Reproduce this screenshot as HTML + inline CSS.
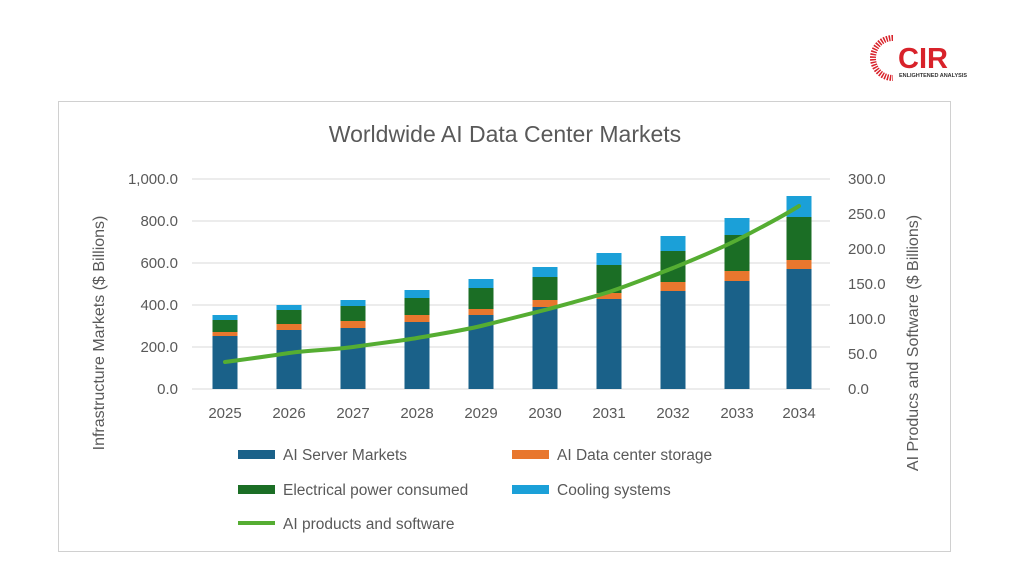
<!DOCTYPE html>
<html><head><style>
body{margin:0;background:#fff;width:1024px;height:576px;overflow:hidden;font-family:"Liberation Sans",sans-serif}
</style></head><body>
<svg width="1024" height="576" xmlns="http://www.w3.org/2000/svg" font-family="Liberation Sans, sans-serif">
<rect x="58.5" y="101.5" width="892" height="450" fill="#fff" stroke="#d0d0d0"/>
<g>
<path d="M893 38 A20 20 0 1 0 893 78" fill="none" stroke="#d8222a" stroke-width="6" stroke-dasharray="1.5 1.2"/>
<text x="898" y="68" font-size="29" font-weight="bold" fill="#d8222a">CIR</text>
<text x="899" y="77" font-size="5.5" font-weight="bold" fill="#333">ENLIGHTENED ANALYSIS</text>
</g>
<text x="505" y="142" font-size="23" fill="#595959" text-anchor="middle">Worldwide AI Data Center Markets</text>
<g stroke="#d9d9d9" stroke-width="1">
<line x1="192" x2="830" y1="179" y2="179"/><line x1="192" x2="830" y1="221" y2="221"/>
<line x1="192" x2="830" y1="263" y2="263"/><line x1="192" x2="830" y1="305" y2="305"/>
<line x1="192" x2="830" y1="347" y2="347"/><line x1="192" x2="830" y1="389" y2="389"/>
</g>
<g font-size="15" fill="#595959" text-anchor="end">
<text x="178" y="184">1,000.0</text><text x="178" y="226">800.0</text><text x="178" y="268">600.0</text>
<text x="178" y="310">400.0</text><text x="178" y="352">200.0</text><text x="178" y="394">0.0</text>
</g>
<g font-size="15" fill="#595959">
<text x="848" y="184">300.0</text><text x="848" y="219">250.0</text><text x="848" y="254">200.0</text>
<text x="848" y="289">150.0</text><text x="848" y="324">100.0</text><text x="848" y="359">50.0</text><text x="848" y="394">0.0</text>
</g>
<g font-size="15" fill="#595959" text-anchor="middle">
<text x="225" y="418">2025</text><text x="289" y="418">2026</text><text x="353" y="418">2027</text><text x="417" y="418">2028</text><text x="481" y="418">2029</text>
<text x="545" y="418">2030</text><text x="609" y="418">2031</text><text x="673" y="418">2032</text><text x="737" y="418">2033</text><text x="799" y="418">2034</text>
</g>
<text transform="translate(104,333) rotate(-90)" font-size="16" fill="#595959" text-anchor="middle">Infrastructure Markets ($ Billions)</text>
<text transform="translate(918,343) rotate(-90)" font-size="16" fill="#595959" text-anchor="middle">AI Producs and Software ($ Billions)</text>
<g>
<rect x="212.5" y="336" width="25" height="53" fill="#1a6189"/><rect x="212.5" y="332" width="25" height="4" fill="#e8772e"/><rect x="212.5" y="320" width="25" height="12" fill="#1b6e25"/><rect x="212.5" y="315" width="25" height="5" fill="#1ba0d8"/>
<rect x="276.5" y="330" width="25" height="59" fill="#1a6189"/><rect x="276.5" y="324" width="25" height="6" fill="#e8772e"/><rect x="276.5" y="310" width="25" height="14" fill="#1b6e25"/><rect x="276.5" y="305" width="25" height="5" fill="#1ba0d8"/>
<rect x="340.5" y="328" width="25" height="61" fill="#1a6189"/><rect x="340.5" y="321" width="25" height="7" fill="#e8772e"/><rect x="340.5" y="306" width="25" height="15" fill="#1b6e25"/><rect x="340.5" y="300" width="25" height="6" fill="#1ba0d8"/>
<rect x="404.5" y="322" width="25" height="67" fill="#1a6189"/><rect x="404.5" y="315" width="25" height="7" fill="#e8772e"/><rect x="404.5" y="298" width="25" height="17" fill="#1b6e25"/><rect x="404.5" y="290" width="25" height="8" fill="#1ba0d8"/>
<rect x="468.5" y="315" width="25" height="74" fill="#1a6189"/><rect x="468.5" y="309" width="25" height="6" fill="#e8772e"/><rect x="468.5" y="288" width="25" height="21" fill="#1b6e25"/><rect x="468.5" y="279" width="25" height="9" fill="#1ba0d8"/>
<rect x="532.5" y="307" width="25" height="82" fill="#1a6189"/><rect x="532.5" y="300" width="25" height="7" fill="#e8772e"/><rect x="532.5" y="277" width="25" height="23" fill="#1b6e25"/><rect x="532.5" y="267" width="25" height="10" fill="#1ba0d8"/>
<rect x="596.5" y="299" width="25" height="90" fill="#1a6189"/><rect x="596.5" y="293" width="25" height="6" fill="#e8772e"/><rect x="596.5" y="265" width="25" height="28" fill="#1b6e25"/><rect x="596.5" y="253" width="25" height="12" fill="#1ba0d8"/>
<rect x="660.5" y="291" width="25" height="98" fill="#1a6189"/><rect x="660.5" y="282" width="25" height="9" fill="#e8772e"/><rect x="660.5" y="251" width="25" height="31" fill="#1b6e25"/><rect x="660.5" y="236" width="25" height="15" fill="#1ba0d8"/>
<rect x="724.5" y="281" width="25" height="108" fill="#1a6189"/><rect x="724.5" y="271" width="25" height="10" fill="#e8772e"/><rect x="724.5" y="235" width="25" height="36" fill="#1b6e25"/><rect x="724.5" y="218" width="25" height="17" fill="#1ba0d8"/>
<rect x="786.5" y="269" width="25" height="120" fill="#1a6189"/><rect x="786.5" y="260" width="25" height="9" fill="#e8772e"/><rect x="786.5" y="217" width="25" height="43" fill="#1b6e25"/><rect x="786.5" y="196" width="25" height="21" fill="#1ba0d8"/>
</g>
<path d="M225 362 C255 358 270 356 289 353 C310 350 330 350 353 347 C380 343 400 341 417 338 C445 333 465 330 481 326 C505 320 525 315 545 310 C570 303 590 298 609 292 C630 285 650 277 673 268 C695 259 715 251 737 240 C760 228 780 218 799 206" fill="none" stroke="#55ad32" stroke-width="4" stroke-linecap="round"/>
<g font-size="15.5" fill="#595959">
<rect x="238" y="450" width="37" height="9" fill="#1a6189"/><text x="283" y="460">AI Server Markets</text>
<rect x="512" y="450" width="37" height="9" fill="#e8772e"/><text x="557" y="460">AI Data center storage</text>
<rect x="238" y="485" width="37" height="9" fill="#1b6e25"/><text x="283" y="495">Electrical power consumed</text>
<rect x="512" y="485" width="37" height="9" fill="#1ba0d8"/><text x="557" y="495">Cooling systems</text>
<line x1="238" x2="275" y1="523" y2="523" stroke="#55ad32" stroke-width="4"/><text x="283" y="529">AI products and software</text>
</g>
</svg>
</body></html>
